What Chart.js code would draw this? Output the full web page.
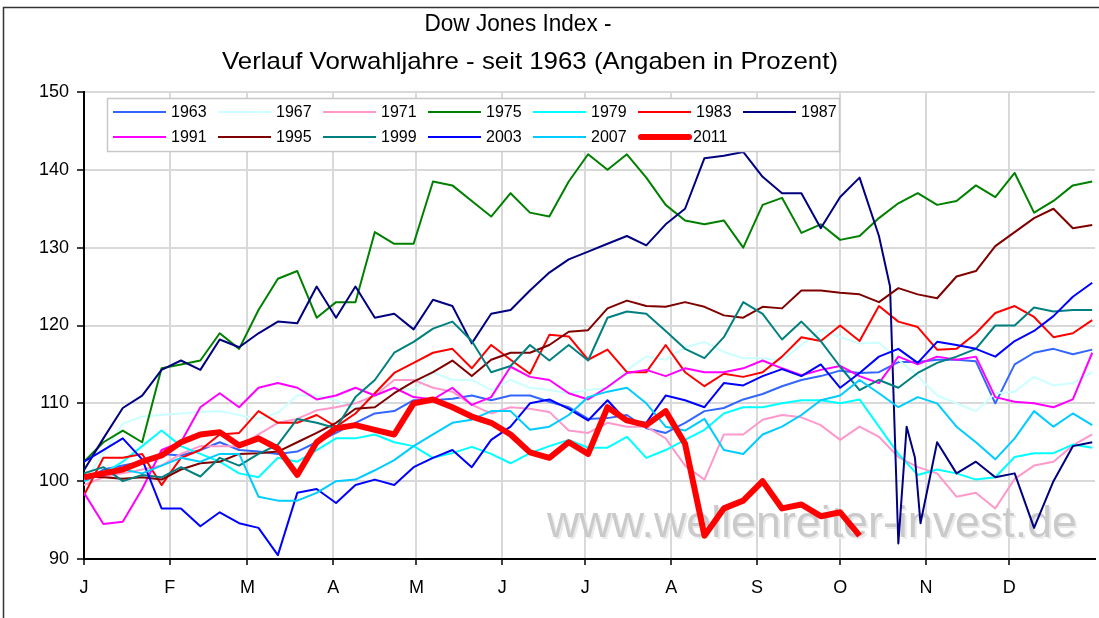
<!DOCTYPE html>
<html>
<head>
<meta charset="utf-8">
<title>Dow Jones Index - Vorwahljahre</title>
<script src="https://cdn.jsdelivr.net/npm/chart.js@4.4.0/dist/chart.umd.min.js"></script>
<style>
  html, body { margin: 0; padding: 0; background: #fff; }
  #wrap { width: 1099px; height: 618px; }
</style>
</head>
<body>
<div id="wrap"><canvas id="chart" width="1099" height="618"></canvas></div>
<script>
// x grid: day of year, one reading per week
const days = [0, 7, 14, 21, 28, 35, 42, 49, 56, 63, 70, 77, 84, 91, 98, 105, 112, 119, 126, 133,
  140, 147, 154, 161, 168, 175, 182, 189, 196, 203, 210, 217, 224, 231, 238, 245, 252, 259, 266, 273,
  280, 287, 294, 301, 308, 315, 322, 329, 336, 343, 350, 357, 364];
// 1987 gets a few extra readings around the October crash
const days1987 = [0, 7, 14, 21, 28, 35, 42, 49, 56, 63, 70, 77, 84, 91, 98, 105, 112, 119, 126, 133,
  140, 147, 154, 161, 168, 175, 182, 189, 196, 203, 210, 217, 224, 231, 238, 245, 252, 259, 266, 273,
  280, 287, 291, 294, 297, 300, 302, 308, 315, 322, 329, 336, 343, 350, 357, 364];

const monthStarts = [0, 31, 59, 90, 120, 151, 181, 212, 243, 273, 304, 334];
const monthLabels = ["J", "F", "M", "A", "M", "J", "J", "A", "S", "O", "N", "D"];
const yTicks = [90, 100, 110, 120, 130, 140, 150];

const years = ["1963", "1967", "1971", "1975", "1979", "1983", "1987",
  "1991", "1995", "1999", "2003", "2007", "2011"];

// index level in % of previous year's close
const v1963 = [100, 101.5, 102, 102.5, 103.5, 103.3, 104, 105, 104, 103.8,
  103.5, 103.8, 105, 106.2, 107.5, 108.7, 109, 110.4, 110.4, 110.6,
  111, 110.4, 111, 111, 110.2, 109.5, 108, 108.1, 108.5, 106.8,
  106.2, 107.5, 109, 109.4, 110.5, 111.2, 112.2, 113, 113.5, 114.2,
  113.9, 114, 115.3, 115.3, 115.6, 115.6, 115.4, 110, 115, 116.5,
  117, 116.3, 116.9];
const v1967 = [100, 103.5, 107.4, 108.3, 108.5, 108.7, 108.9, 109, 108.5, 108,
  108.8, 111, 111, 110.4, 109.2, 111, 112, 111.7, 114, 113,
  113, 111.7, 113, 112, 111.7, 111.3, 111.7, 112, 114.3, 116,
  115.6, 117.2, 117.9, 116.6, 115.8, 115.8, 115.5, 117.5, 119.4, 118.5,
  117.7, 117.8, 115.6, 113.5, 111, 110, 109, 111.3, 111.5, 113.4,
  112.3, 112.6, 114];
const v1971 = [99.5, 100.5, 101, 101.5, 102, 103.5, 104.5, 104.5, 104.5, 106,
  107.5, 108, 109.1, 109.5, 110, 111, 113, 113, 112, 111.5,
  109.8, 108.7, 109.5, 109.3, 108.9, 106.5, 106.2, 107.5, 107, 107,
  105.5, 102, 100.2, 106, 106, 107.9, 108.5, 108.2, 107.2, 105.3,
  107, 105.7, 103.1, 101.8, 101, 98, 98.5, 96.5, 100.3, 102,
  102.5, 104.6, 106];
const v1975 = [102.5, 105, 106.5, 105, 114.5, 115, 115.5, 119, 117, 122,
  126, 127, 121, 123, 123, 132, 130.5, 130.5, 138.5, 138,
  136, 134, 137, 134.5, 134, 138.5, 142, 140, 142, 139,
  135.5, 133.5, 133, 133.5, 130, 135.5, 136.4, 131.9, 133, 131,
  131.5, 133.8, 135.7, 137, 135.5, 136, 138, 136.5, 139.6, 134.5,
  136, 138, 138.5];
const v1979 = [100, 101, 102.5, 104.5, 106.5, 104.5, 103.5, 102.5, 101, 100.5,
  103, 102.5, 104, 105.5, 105.5, 106, 105, 104.5, 103, 103.6,
  104.4, 103.5, 102.3, 103.6, 104.5, 105.3, 104.3, 104.3, 105.7, 103,
  104, 105.3, 106.6, 108.7, 109.5, 109.5, 110, 110.4, 110.4, 110,
  110.5, 107, 103.5, 100.8, 101.5, 101, 100.2, 100.5, 103.1, 103.6,
  103.6, 104.7, 104.3];
const v1983 = [98.2, 103, 103, 103.5, 99.5, 103, 104, 106, 106.2, 109,
  107.5, 107.5, 108.5, 107, 108.7, 111.3, 113.9, 115.2, 116.5, 117,
  114.5, 117.5, 115.6, 113.8, 118.8, 118.6, 115.6, 116.9, 114, 114,
  117.5, 114, 112.2, 113.8, 113.4, 114, 116, 118.5, 118, 120,
  118, 122.5, 120.5, 119.8, 116.9, 117, 119, 121.6, 122.5, 121.1,
  118.5, 119, 120.7];
const v1987 = [101.4, 105.5, 109.4, 111, 114.3, 115.5, 114.3, 118.2, 117.2, 119,
  120.5, 120.3, 125, 121, 125, 121, 121.5, 119.5, 123.3, 122.5,
  117.7, 121.5, 122, 124.5, 126.8, 128.5, 129.5, 130.5, 131.5, 130.3,
  133, 135, 141.5, 141.8, 142.3, 139.1, 137, 137, 132.5, 136.5,
  139, 131.5, 125, 92, 107, 103, 94.6, 105, 101, 102.5,
  100.5, 101, 94, 100, 104.5, 105];
const v1991 = [98.5, 94.5, 94.8, 99, 104, 105, 109.5, 111.3, 109.5, 112,
  112.6, 112, 110.5, 111, 112, 111, 112, 110.8, 110.5, 112,
  109.8, 110.8, 114.7, 113.4, 113, 111.3, 110.5, 112.1, 113.9, 114.3,
  113.5, 114.5, 114, 114, 114.5, 115.5, 114.5, 113.6, 114.3, 114.8,
  113.5, 112.6, 116, 115, 116, 115.6, 116, 110.8, 110.2, 110,
  109.5, 110.5, 116.5];
const v1995 = [100.6, 100.5, 100.3, 100.5, 100.2, 101.5, 102.3, 102.5, 103.5, 103.6,
  103.8, 105, 106.2, 107.5, 109.3, 109.5, 111.3, 112.8, 114, 115.5,
  113.5, 115.6, 116.5, 116.5, 117.5, 119.2, 119.4, 122.2, 123.2, 122.5,
  122.4, 123, 122.4, 121.3, 121, 122.4, 122.2, 124.5, 124.5, 124.2,
  124, 123, 124.8, 124, 123.5, 126.3, 127, 130.2, 132, 133.8,
  135, 132.5, 132.9];
const v1999 = [101, 101.8, 100, 100.8, 100.5, 101.8, 100.6, 103, 102, 103.5,
  104.7, 108, 107.5, 106.8, 110.8, 113, 116.5, 117.9, 119.6, 120.5,
  118, 114, 114.8, 117.5, 115.5, 117.5, 115.5, 121, 121.8, 121.5,
  119.3, 117, 115.8, 118.5, 123, 121.5, 118.2, 120.5, 118, 114.7,
  111.7, 113, 112, 113.9, 115.2, 116, 117, 120, 120, 122.3,
  121.8, 122, 122];
const v2003 = [102.5, 104, 105.5, 102.8, 96.5, 96.5, 94.2, 96, 94.6, 94,
  90.5, 98.5, 99, 97.2, 99.5, 100.2, 99.5, 101.8, 103, 104,
  101.8, 105.3, 107, 110, 110.5, 109.3, 107.8, 110.4, 107.7, 107.5,
  111, 110.4, 109.5, 112.6, 112.3, 113.5, 114.4, 113.5, 115, 112,
  113.9, 116, 117, 115.2, 117.9, 117.5, 117, 116, 118, 119.3,
  121.2, 123.7, 125.5];
const v2007 = [100, 101, 101.5, 101, 102, 103, 102.5, 103.5, 103.5, 98,
  97.5, 97.5, 98.5, 100, 100.2, 101.4, 102.7, 104.5, 106, 107.5,
  107.9, 109, 109, 106.6, 107, 108.5, 110.8, 111.5, 112, 110,
  107, 106.5, 108, 104, 103.5, 106, 107, 108.5, 110.4, 111,
  113, 111.3, 109.5, 110.8, 110, 107, 105, 102.8, 105.5, 109,
  107, 108.7, 107.2];
const v2011 = [100.5, 101, 101.5, 102.5, 103.3, 105, 106, 106.3, 104.6, 105.5,
  104.2, 100.8, 105, 106.8, 107.2, 106.6, 106, 110, 110.5, 109.5,
  108.3, 107.5, 106, 103.7, 103, 105, 103.5, 109.5, 107.8, 107.2,
  109, 104.8, 93, 96.5, 97.5, 100, 96.5, 97, 95.5, 96,
  93];

const seriesValues = [v1963, v1967, v1971, v1975, v1979, v1983, v1987,
  v1991, v1995, v1999, v2003, v2007, v2011];
const seriesDays = [days, days, days, days, days, days, days1987,
  days, days, days, days, days, days];
const lineColors = ["#3366ff", "#ccffff", "#ff99cc", "#008000", "#00ffff", "#ff0000", "#000080",
  "#ff00ff", "#800000", "#008080", "#0000ff", "#00ccff", "#ff0000"];

const FONT = '"Liberation Sans", Arial, sans-serif';

function fitText(ctx, txt, cx, cy, width) {
  const w = ctx.measureText(txt).width;
  ctx.save();
  ctx.translate(cx, cy);
  ctx.scale(width / w, 1);
  ctx.fillText(txt, 0, 0);
  ctx.restore();
}

const decor = {
  id: "decor",
  beforeDraw(chart) {
    const ctx = chart.ctx;
    ctx.save();
    ctx.fillStyle = "#fff";
    ctx.fillRect(0, 0, chart.width, chart.height);
    ctx.restore();
  },
  beforeDatasetsDraw(chart) {
    // watermark under the lines
    const ctx = chart.ctx;
    ctx.save();
    ctx.font = "45px " + FONT;
    ctx.textBaseline = "alphabetic";
    const txt = "www.wellenreiter-invest.de";
    const w = ctx.measureText(txt).width;
    ctx.translate(547, 537);
    ctx.scale(530 / w, 1);
    ctx.fillStyle = "#ebebeb";
    ctx.fillText(txt, 2, 2);
    ctx.fillStyle = "#cacaca";
    ctx.fillText(txt, 0, 0);
    ctx.restore();
  },
  afterDatasetsDraw(chart) {
    const ctx = chart.ctx;
    ctx.save();
    ctx.fillStyle = "#fff";
    ctx.fillRect(107, 98, 733, 54);
    ctx.strokeStyle = "#c8c8c8";
    ctx.lineWidth = 1.5;
    ctx.strokeRect(107.5, 98.5, 732, 53);
    ctx.font = "16px " + FONT;
    ctx.textBaseline = "middle";
    ctx.fillStyle = "#000";
    chart.data.datasets.forEach((ds, i) => {
      const col = i % 7, row = Math.floor(i / 7);
      const x = 113 + col * 105, y = 112 + row * 25;
      const thick = ds.borderWidth > 3;
      ctx.beginPath();
      ctx.strokeStyle = ds.borderColor;
      ctx.lineWidth = ds.borderWidth;
      ctx.lineCap = thick ? "round" : "butt";
      ctx.moveTo(x + (thick ? 3 : 0), y);
      ctx.lineTo(x + (thick ? 51 : 53), y);
      ctx.stroke();
      ctx.fillText(ds.label, x + (thick ? 55 : 58), y + 1);
    });
    ctx.restore();
  },
  afterDraw(chart) {
    const ctx = chart.ctx;
    ctx.save();
    ctx.fillStyle = "#000";
    ctx.font = "24px " + FONT;
    ctx.textAlign = "center";
    ctx.textBaseline = "middle";
    fitText(ctx, "Dow Jones Index -", 518, 24, 187);
    fitText(ctx, "Verlauf Vorwahljahre - seit 1963 (Angaben in Prozent)", 530, 62, 616);
    ctx.strokeStyle = "#333";
    ctx.lineWidth = 1.5;
    ctx.beginPath();
    ctx.moveTo(3.5, 620);
    ctx.lineTo(3.5, 7.5);
    ctx.lineTo(1100, 7.5);
    ctx.stroke();
    ctx.restore();
  }
};

new Chart(document.getElementById("chart"), {
  type: "line",
  data: {
    datasets: years.map((yr, i) => ({
      label: yr,
      data: seriesValues[i].map((v, k) => ({ x: seriesDays[i][k], y: v })),
      borderColor: lineColors[i],
      borderWidth: yr === "2011" ? 6 : 2,
      borderJoinStyle: "round",
      pointRadius: 0,
      tension: 0,
      fill: false,
      order: years.length - i
    }))
  },
  options: {
    responsive: false,
    devicePixelRatio: 1,
    animation: false,
    layout: { padding: { top: 92, right: 4, left: 0, bottom: 0 } },
    plugins: {
      legend: { display: false },
      title: { display: false },
      tooltip: { enabled: false }
    },
    scales: {
      x: {
        type: "linear",
        min: 0,
        max: 365,
        afterBuildTicks: (scale) => { scale.ticks = monthStarts.map(v => ({ value: v })); },
        afterFit: (scale) => { scale.height = 59; },
        ticks: {
          autoSkip: false,
          maxRotation: 0,
          padding: 12,
          color: "#000",
          font: { family: FONT, size: 18 },
          callback: (v) => monthLabels[monthStarts.indexOf(v)]
        },
        grid: { color: "#d9d9d9", lineWidth: 2, tickColor: "#000", tickLength: 6, tickWidth: 1.5 },
        border: { color: "#000", width: 2 }
      },
      y: {
        min: 90,
        max: 150,
        afterBuildTicks: (scale) => { scale.ticks = yTicks.map(v => ({ value: v })); },
        afterFit: (scale) => { scale.width = 84; },
        ticks: {
          padding: 8,
          color: "#000",
          font: { family: FONT, size: 18 }
        },
        grid: { color: "#d9d9d9", lineWidth: 2, tickColor: "#000", tickLength: 7, tickWidth: 1.5 },
        border: { color: "#000", width: 2 }
      }
    }
  },
  plugins: [decor]
});
</script>
</body>
</html>
